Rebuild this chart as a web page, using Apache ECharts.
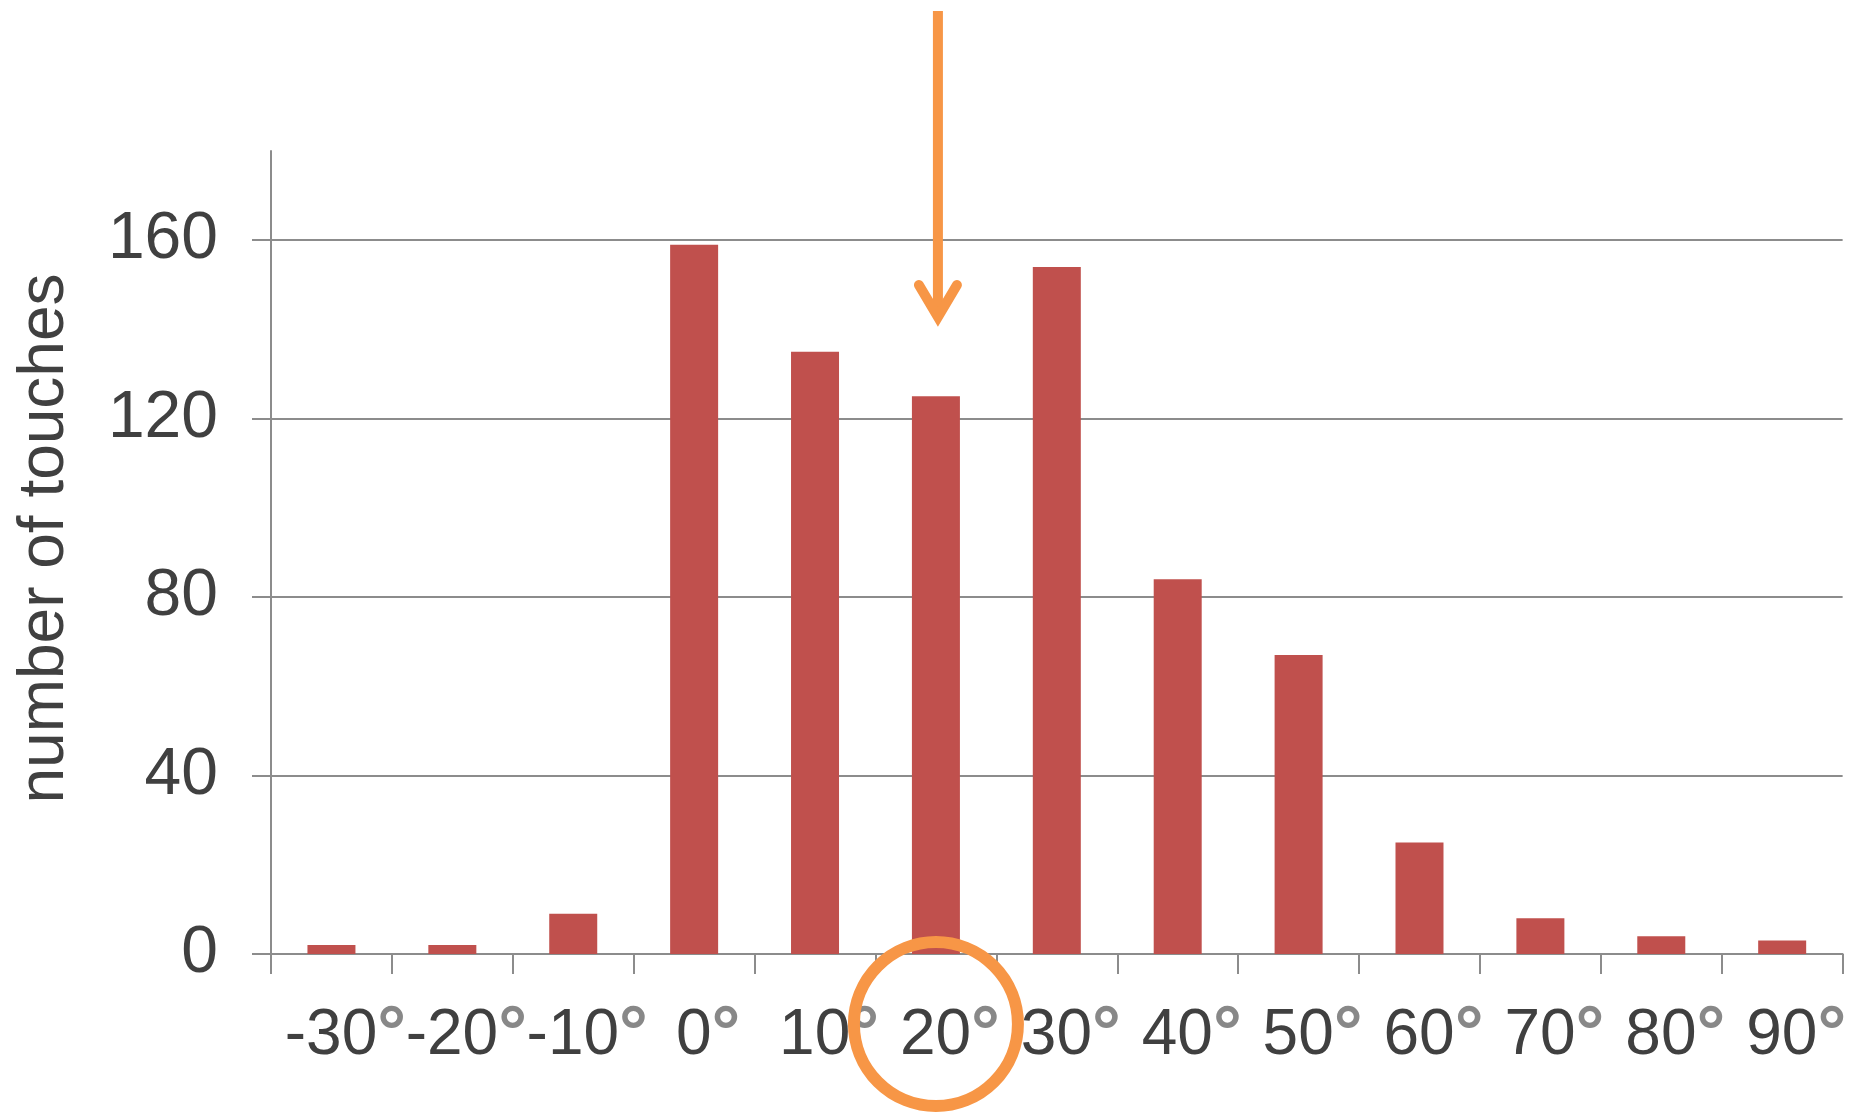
<!DOCTYPE html>
<html>
<head>
<meta charset="utf-8">
<script src="https://cdn.jsdelivr.net/npm/echarts@6/dist/echarts.min.js"></script>
<style>
  html, body { margin: 0; padding: 0; background: #ffffff; }
  #chart { width: 1849px; height: 1112px; }
</style>
</head>
<body>
<div id="chart"></div>
<script>
// ---- data ----
const categories = ['-30°', '-20°', '-10°', '0°', '10°', '20°', '30°', '40°', '50°', '60°', '70°', '80°', '90°'];
const touches = [2, 2, 9, 159, 135, 125, 154, 84, 67, 25, 8, 4, 3];
const yTickValues = [0, 40, 80, 120, 160];
const yAxisTitle = 'number of touches';
const highlightCategory = '20°';

const FONT = "'Liberation Sans', Arial, Helvetica, sans-serif";
const TEXT = '#404040';
const LINE = '#8c8c8c';
const ORANGE = '#F79646';

const chart = echarts.init(document.getElementById('chart'), null, { renderer: 'canvas' });

chart.setOption({
  animation: false,
  backgroundColor: '#ffffff',
  grid: { left: 271, right: 2, top: 151, bottom: 158, containLabel: false },
  xAxis: {
    type: 'category',
    data: categories,
    boundaryGap: true,
    axisLine: { show: true, lineStyle: { color: LINE, width: 2 } },
    axisTick: { show: true, length: 20, alignWithLabel: false, lineStyle: { color: LINE, width: 2 } },
    axisLabel: {
      interval: 0,
      margin: 47,
      padding: [0, 0, 0, 28],
      formatter: function (v) {
        return '{n|' + v.replace('°', '') + '}{d|°}';
      },
      rich: {
        n: { fontFamily: FONT, fontSize: 64, color: TEXT, lineHeight: 70 },
        d: { fontFamily: FONT, fontSize: 72, fontWeight: 'bold', color: '#888888', lineHeight: 70 }
      }
    },
    splitLine: { show: false }
  },
  yAxis: {
    type: 'value',
    min: 0,
    max: 180,
    interval: 40,
    name: yAxisTitle,
    nameLocation: 'middle',
    nameGap: 194,
    nameRotate: 90,
    nameTextStyle: { fontFamily: FONT, fontSize: 64, color: TEXT, padding: [0, 0, 0, 28] },
    axisLine: { show: true, lineStyle: { color: LINE, width: 2 } },
    axisTick: { show: true, length: 19, lineStyle: { color: LINE, width: 2 } },
    axisLabel: {
      margin: 53,
      showMaxLabel: false,
      fontFamily: FONT,
      fontSize: 66,
      color: TEXT,
      formatter: function (v) { return yTickValues.indexOf(v) >= 0 ? String(v) : ''; }
    },
    splitLine: { show: true, showMaxLine: false, lineStyle: { color: LINE, width: 2 } }
  },
  series: [{
    type: 'bar',
    data: touches,
    barWidth: 48,
    itemStyle: { color: '#C0504D' },
    z: 3
  }]
});

// ---- annotations: arrow and circle around the highlighted category ----
const p = chart.convertToPixel({ gridIndex: 0 }, [highlightCategory, 0]);
const cx = p[0];
const axisY = p[1];
chart.setOption({
  graphic: [
    {
      type: 'circle',
      shape: { cx: cx, cy: axisY + 70, r: 82 },
      style: { fill: 'none', stroke: ORANGE, lineWidth: 12 },
      z: 100
    },
    {
      type: 'line',
      shape: { x1: cx + 2, y1: 11, x2: cx + 2, y2: 314 },
      style: { stroke: ORANGE, lineWidth: 10 },
      z: 100
    },
    {
      type: 'polyline',
      shape: { points: [[cx - 17, 285], [cx + 2, 317], [cx + 21, 285]] },
      style: { fill: 'none', stroke: ORANGE, lineWidth: 10, lineCap: 'round', lineJoin: 'miter' },
      z: 100
    }
  ]
});
</script>
</body>
</html>
